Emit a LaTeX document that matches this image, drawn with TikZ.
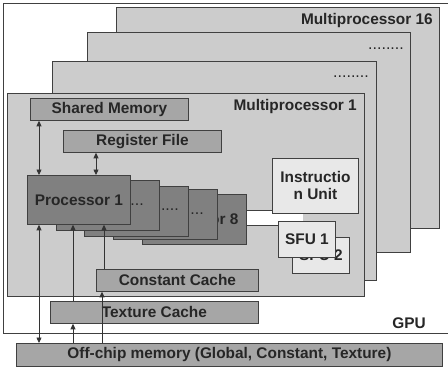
\documentclass[tikz,border=0pt]{standalone}
\usepackage{fontspec}
\setmainfont{Liberation Sans}
\usetikzlibrary{arrows.meta}

\begin{document}
\begin{tikzpicture}[x=1pt,y=-1pt,
	box/.style={draw=black!75,line width=0.8pt,anchor=north west,inner sep=0pt,
		font=\bfseries\fontsize{15.4}{17}\selectfont,text=black!85},
	mpbox/.style={box,fill=black!20},
	membox/.style={box,fill=black!35},
	procbox/.style={box,fill=black!50},
	unitbox/.style={box,fill=black!9,align=center},
	lbl/.style={font=\bfseries\fontsize{15.4}{17}\selectfont,text=black!85,inner sep=0pt},
	dots/.style={font=\fontsize{16}{17}\selectfont,text=black!85,inner sep=0pt,anchor=east},
	link/.style={line width=0.7pt,black!80},
	both/.style={link,{Triangle[length=5.5pt,width=5pt]}-{Triangle[length=5.5pt,width=5pt]}},
	up/.style={link,-{Triangle[length=5.5pt,width=5pt]}}]
	\useasboundingbox (0,0) rectangle (448,373);

	% GPU frame
	\draw[black!75,line width=0.8pt] (452,3) -- (3,3) -- (3,333) -- (452,333);
	\node[lbl,anchor=center] (gpu) at (409,323) {GPU};

	% multiprocessors, back to front
	\node[mpbox,minimum width=323pt,minimum height=221pt] (mp16) at (116,7) {};
	\node[lbl,anchor=east] (mp16txt) at (433,21) {Multiprocessor 16};
	\node[mpbox,minimum width=323pt,minimum height=220pt] (mpb) at (87,32) {};
	\node[dots] (mpbdots) at (404,49) {........};
	\node[mpbox,minimum width=324pt,minimum height=219pt] (mpc) at (52,61) {};
	\node[dots] (mpcdots) at (369,77) {........};
	\node[mpbox,minimum width=357pt,minimum height=203pt] (mp1) at (7,93) {};
	\node[lbl,anchor=east] (mp1txt) at (357,107) {Multiprocessor 1};

	% bar from the processors to the units
	\node[fill=white,anchor=north west,inner sep=0pt,minimum width=58pt,minimum height=15pt] (bar) at (245,210) {};
	\draw[black!75,line width=0.8pt] (bar.north west) -- (bar.north east) (bar.south west) -- (bar.south east);

	% processors
	\node[procbox,minimum width=104pt,minimum height=50pt] (p8) at (142,194) {Processor 8};
	\node[procbox,minimum width=104pt,minimum height=50pt] (p4) at (113,189) {};
	\node[dots] (p4dots) at (204,214) {....};
	\node[procbox,minimum width=104pt,minimum height=50pt] (p3) at (84,186) {};
	\node[dots] (p3dots) at (179,210) {.....};
	\node[procbox,minimum width=103pt,minimum height=50pt] (p2) at (56,180) {};
	\node[dots] (p2dots) at (144,205) {....};
	\node[procbox,minimum width=103pt,minimum height=49pt] (p1) at (27,175) {Processor 1};

	% units
	\node[unitbox,minimum width=86pt,minimum height=55pt] (iu) at (272,158) {Instructio\\n Unit};
	\node[unitbox,minimum width=57pt,minimum height=36pt] (sfu2) at (292,237) {SFU 2};
	\node[unitbox,minimum width=57pt,minimum height=36pt] (sfu1) at (278,221) {SFU 1};

	% memories
	\node[membox,minimum width=158pt,minimum height=22pt] (shm) at (30,98) {Shared Memory};
	\node[membox,minimum width=158pt,minimum height=22pt] (reg) at (63,130) {Register File};
	\node[membox,minimum width=162pt,minimum height=22pt] (cc) at (96,269) {Constant Cache};
	\node[membox,minimum width=208pt,minimum height=22pt] (tc) at (50,301) {Texture Cache};
	\node[membox,minimum width=426pt,minimum height=23pt] (off) at (16,343) {Off-chip memory (Global, Constant, Texture)};

	% connections
	\draw[both] (shm.south -| 39,0) -- (p1.north -| 39,0);
	\draw[both] (reg.south -| 96,0) -- (p1.north -| 96,0);
	\draw[both] (p1.south -| 39,0) -- (off.north -| 39,0);
	\draw[up] (tc.north -| 73,0) -- (p1.south -| 73,0);
	\draw[up] (cc.north -| 104,0) -- (p1.south -| 104,0);
	\draw[up] (off.north -| 73,0) -- (tc.south -| 73,0);
	\draw[up] (off.north -| 102,0) -- (cc.south -| 102,0);
\end{tikzpicture}
\end{document}
